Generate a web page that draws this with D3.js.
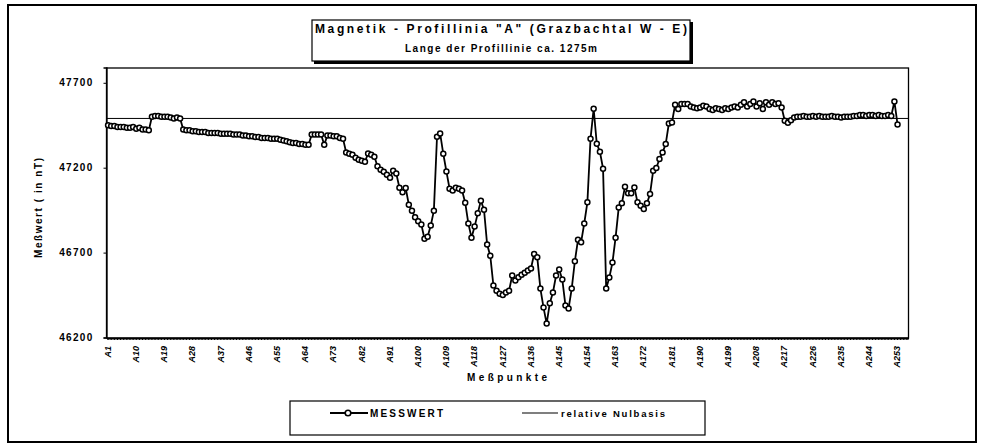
<!DOCTYPE html>
<html lang="de">
<head>
  <meta charset="UTF-8">
  <title>Magnetik - Profillinia A</title>
  <script src="https://d3js.org/d3.v7.min.js"></script>
  <style>
    body {
      margin: 0;
      background: #fff;
      font-family: "Liberation Sans", Arial, sans-serif;
    }
    svg text {
      font-weight: bold;
      fill: #000;
    }
  </style>
</head>
<body>
<svg id="chart" width="982" height="447"></svg>

<script>
  // Meßpunkte A1 .. A256 (Excel-Achse), Messwerte bis A253
  const categories = d3.range(1, 257).map(i => "A" + i);
  const tickLabels = categories.filter((c, i) => i % 9 === 0 && i < 253);
  const yTicks = [46200, 46700, 47200, 47700];

  // MESSWERT (nT)
  const messwert = [
    47450, 47445, 47445, 47440, 47440, 47440, 47435, 47435, 47440, 47430, 47435, 47425, 47425, 47420,
    47500, 47505, 47505, 47500, 47500, 47500, 47495, 47490, 47495, 47490,
    47425, 47420, 47420, 47415, 47415, 47410, 47410, 47410, 47405,
    47405, 47405, 47405, 47400, 47400, 47400, 47400, 47395, 47395, 47395, 47390, 47390, 47385, 47385,
    47380, 47380, 47375, 47375, 47375, 47370, 47370, 47370, 47365, 47360, 47355, 47350, 47345, 47345,
    47340, 47340, 47335, 47335,
    47395, 47395, 47395, 47395, 47335, 47390, 47390, 47385, 47385, 47375, 47370,
    47290, 47282, 47276, 47259, 47247, 47241, 47235, 47284, 47276, 47265, 47209, 47188, 47176, 47159,
    47141, 47182, 47166, 47082, 47055, 47081,
    46982, 46947, 46908, 46884, 46865, 46782, 46794, 46859, 46947, 47382, 47402,
    47282, 47178, 47076, 47065, 47082, 47076, 47065, 46994, 46872, 46788, 46853, 46931, 47006, 46953,
    46747, 46682, 46506, 46476, 46457, 46451, 46465, 46476, 46565, 46535, 46555, 46570, 46582, 46594,
    46606, 46692, 46672,
    46488, 46376, 46282, 46402, 46465, 46565, 46600, 46541, 46388, 46371, 46488, 46649, 46775, 46761,
    46872, 46996, 47370, 47547, 47341, 47294, 47194, 46488,
    46553, 46641, 46788, 46965, 46990, 47088, 47049, 47049, 47084, 46996, 46976, 46957, 46990, 47045,
    47182, 47198, 47251, 47290, 47339, 47460, 47466, 47571, 47545, 47575, 47575, 47575,
    47560, 47555, 47550, 47555, 47565, 47560, 47545, 47540, 47550, 47545, 47540, 47550, 47545, 47555,
    47560, 47555, 47570, 47585, 47560, 47575, 47590, 47560, 47580, 47545, 47585, 47570, 47585, 47575,
    47580, 47555,
    47476, 47465, 47480, 47495,
    47500, 47500, 47505, 47500, 47500, 47505, 47500, 47505, 47500, 47500, 47500, 47505, 47500, 47500,
    47495, 47500, 47500, 47500, 47505, 47505, 47510, 47510, 47505, 47510, 47510, 47505, 47510, 47505,
    47505, 47510, 47505,
    47590, 47455
  ];
  const nullbasis = 47490;

  const titleText = "Magnetik - Profillinia \"A\" (Grazbachtal W - E)";
  const subtitleText = "Lange der Profillinie ca. 1275m";
  const legendLabels = ["MESSWERT", "relative Nulbasis"];

  const svg = d3.select("#chart");
  const plot = { left: 106.5, right: 908.5, top: 68, bottom: 338 };

  // outer frame
  svg.append("rect")
    .attr("x", 8).attr("y", 5)
    .attr("width", 968).attr("height", 437)
    .attr("fill", "none").attr("stroke", "#000").attr("stroke-width", 2);

  const x = d3.scaleBand()
    .domain(categories)
    .range([plot.left, plot.right])
    .padding(0);
  const cx = d => x(d) + x.bandwidth() / 2;

  const y = d3.scaleLinear()
    .domain([46200, 47790])
    .range([337.5, 67.5]);

  // plot frame
  svg.append("rect")
    .attr("x", plot.left).attr("y", plot.top)
    .attr("width", plot.right - plot.left).attr("height", plot.bottom - plot.top)
    .attr("fill", "none").attr("stroke", "#000").attr("stroke-width", 1.3);

  // y axis
  const yAxis = svg.append("g")
    .attr("transform", `translate(${plot.left},0)`)
    .call(d3.axisLeft(y).tickValues(yTicks).tickSize(3).tickPadding(10).tickFormat(d => d));
  yAxis.select(".domain").attr("stroke-width", 1.3);
  yAxis.selectAll("text")
    .style("font-size", "10px")
    .style("letter-spacing", "1.3px")
    .attr("font-family", null);

  // x axis
  const xAxis = svg.append("g")
    .attr("transform", `translate(0,${plot.bottom})`)
    .call(d3.axisBottom(x).tickValues(categories).tickSize(2).tickSizeOuter(0)
      .tickFormat(d => tickLabels.includes(d) ? d : ""));
  xAxis.select(".domain").attr("stroke-width", 2.2);
  xAxis.selectAll("text")
    .attr("font-family", null)
    .style("font-size", "9px")
    .style("font-style", "italic")
    .attr("transform", "rotate(-90)")
    .attr("text-anchor", "end")
    .attr("x", -8)
    .attr("y", 0)
    .attr("dy", "0.3em");

  // relative Nullbasis
  svg.append("line")
    .attr("x1", plot.left).attr("x2", plot.right)
    .attr("y1", y(nullbasis)).attr("y2", y(nullbasis))
    .attr("stroke", "#000").attr("stroke-width", 1);

  // Messwert line + markers
  const line = d3.line()
    .x((d, i) => cx(categories[i]))
    .y(d => y(d));

  svg.append("path")
    .datum(messwert)
    .attr("d", line)
    .attr("fill", "none")
    .attr("stroke", "#000")
    .attr("stroke-width", 1.8);

  svg.append("g")
    .selectAll("circle")
    .data(messwert)
    .join("circle")
    .attr("cx", (d, i) => cx(categories[i]))
    .attr("cy", d => y(d))
    .attr("r", 2.5)
    .attr("fill", "#fff")
    .attr("stroke", "#000")
    .attr("stroke-width", 1.5);

  // title box with shadow
  svg.append("rect")
    .attr("x", 314).attr("y", 22)
    .attr("width", 379).attr("height", 42)
    .attr("fill", "#000");
  svg.append("rect")
    .attr("x", 312).attr("y", 20)
    .attr("width", 378).attr("height", 41)
    .attr("fill", "#fff").attr("stroke", "#000").attr("stroke-width", 1.2);

  svg.append("text")
    .attr("x", 315).attr("y", 33)
    .attr("textLength", 372).attr("lengthAdjust", "spacing")
    .style("font-size", "12px")
    .text(titleText);

  svg.append("text")
    .attr("x", 405).attr("y", 52)
    .attr("textLength", 192).attr("lengthAdjust", "spacing")
    .style("font-size", "10px")
    .text(subtitleText);

  // axis titles
  svg.append("text")
    .attr("transform", "translate(42,258) rotate(-90)")
    .attr("textLength", 100).attr("lengthAdjust", "spacing")
    .style("font-size", "10px")
    .text("Meßwert ( in nT)");

  svg.append("text")
    .attr("x", 467).attr("y", 381)
    .attr("textLength", 80).attr("lengthAdjust", "spacing")
    .style("font-size", "10px")
    .text("Meßpunkte");

  // legend
  svg.append("rect")
    .attr("x", 290).attr("y", 401)
    .attr("width", 415).attr("height", 34)
    .attr("fill", "#fff").attr("stroke", "#000").attr("stroke-width", 1.2);

  const lg = svg.append("g");
  lg.append("line")
    .attr("x1", 330).attr("x2", 368).attr("y1", 413).attr("y2", 413)
    .attr("stroke", "#000").attr("stroke-width", 2);
  lg.append("circle")
    .attr("cx", 348).attr("cy", 413).attr("r", 2.8)
    .attr("fill", "#fff").attr("stroke", "#000").attr("stroke-width", 1.6);
  lg.append("text")
    .attr("x", 370).attr("y", 417)
    .attr("textLength", 73).attr("lengthAdjust", "spacing")
    .style("font-size", "10px")
    .text(legendLabels[0]);

  lg.append("line")
    .attr("x1", 522).attr("x2", 558).attr("y1", 413).attr("y2", 413)
    .attr("stroke", "#000").attr("stroke-width", 1.2);
  lg.append("text")
    .attr("x", 561).attr("y", 417)
    .attr("textLength", 104).attr("lengthAdjust", "spacing")
    .style("font-size", "9.5px")
    .text(legendLabels[1]);
</script>
</body>
</html>
